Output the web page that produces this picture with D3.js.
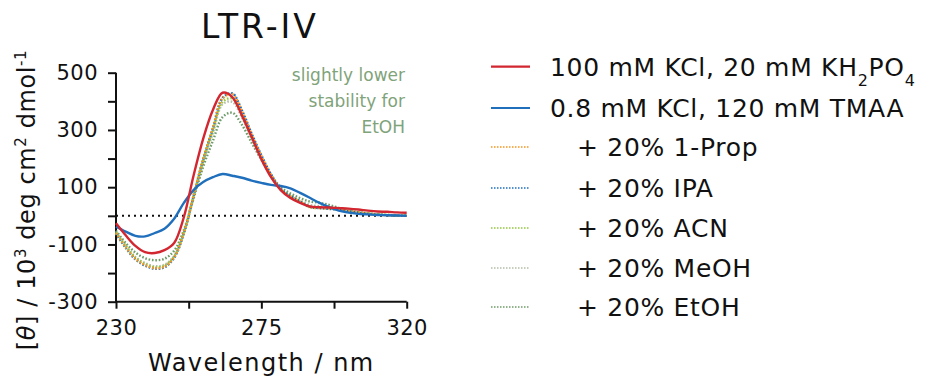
<!DOCTYPE html>
<html>
<head>
<meta charset="utf-8">
<script src="https://cdn.jsdelivr.net/npm/d3@7"></script>
<style>
  body { margin: 0; background: #fff; }
  svg { font-family: "DejaVu Sans", "Open Sans", sans-serif; }
  .axis path, .axis line { stroke: #111; stroke-width: 2; }
  .axis text { font-family: "DejaVu Sans", sans-serif; font-size: 21px; fill: #111; letter-spacing: 0.5px; }
</style>
</head>
<body>
<div id="chart"></div>
<script>
// wavelengths (nm)
var wavelength = [230,233,236,239,242,245,248,251,254,257,260,263,266,269,272,275,278,281,284,287,290,293,296,299,302,305,308,311,314,317,320];

// molar ellipticity, 10^3 deg cm2 dmol-1
var kcl100 = [-26,-68,-105,-127,-130,-120,-95,-5,140,270,370,430,415,350,275,198,135,90,62,45,33,30,29,27,25,22,18,15,14,12,11];
var tmaa = [-38,-55,-70,-72,-60,-45,-10,45,90,118,135,146,140,133,123,115,108,104,96,80,63,45,30,18,11,7,5,3,2,1,0];
var prop1 = [-61,-110,-150,-172,-183,-178,-145,-60,70,200,308,410,425,365,285,210,143,92,68,50,30,27,25,22,17,12,8,4,2,1,0];
var ipa = [-63,-112,-152,-174,-185,-180,-147,-62,68,198,306,412,428,368,287,212,145,94,69,50,31,27,24,21,16,11,7,4,2,1,0];
var acn = [-58,-106,-146,-168,-180,-174,-142,-58,70,196,300,398,410,352,276,204,140,92,68,50,32,28,26,22,17,12,8,5,3,1,0];
var meoh = [-57,-104,-144,-165,-176,-171,-140,-60,64,188,290,390,398,344,272,202,140,94,70,52,38,34,30,24,18,13,8,5,3,1,0];
var etoh = [-52,-95,-128,-148,-155,-150,-122,-50,60,172,262,345,360,318,255,196,142,100,78,62,50,46,38,28,18,12,8,5,3,1,0];

var labels = ["100 mM KCl, 20 mM KH2PO4", "0.8 mM KCl, 120 mM TMAA", "+ 20% 1-Prop", "+ 20% IPA", "+ 20% ACN", "+ 20% MeOH", "+ 20% EtOH"];
var colors = ["#d22630", "#1f6fbd", "#f7941d", "#1b6fc0", "#93c83e", "#b2bda6", "#6d9c68"];
var dashed = [false, false, true, true, true, true, true];

var yTicks = [-300,-200,-100,0,100,200,300,400,500];
var yLabels = [-300,-100,100,300,500];
var xTicks = [230,252.5,275,297.5,320];
var xLabels = [230,275,320];

var W = 925, H = 377;
var M = {t:72.7, l:116, r:518.3, b:75.3};

var svg = d3.select("#chart").append("svg")
  .attr("width", W).attr("height", H);

var scaleX = d3.scaleLinear().domain([230,320]).range([M.l, W - M.r]);
var scaleY = d3.scaleLinear().domain([-300,500]).range([H - M.b, M.t]);

// axes
var axisY = d3.axisLeft(scaleY).tickValues(yTicks).tickSize(8).tickPadding(10)
  .tickFormat(function(d){ return yLabels.indexOf(d) > -1 ? d : ""; });
svg.append("g").attr("class","axis")
  .attr("transform","translate(" + M.l + ",0)")
  .call(axisY)
  .call(function(g){ g.select(".domain").attr("d", "M0," + scaleY(-300) + "V" + scaleY(500)); });

var axisX = d3.axisBottom(scaleX).tickValues(xTicks).tickSize(7).tickPadding(11)
  .tickFormat(function(d){ return xLabels.indexOf(d) > -1 ? d : ""; });
svg.append("g").attr("class","axis")
  .attr("transform","translate(0," + scaleY(-300) + ")")
  .call(axisX)
  .call(function(g){ g.select(".domain").attr("d", "M" + scaleX(230) + ",0H" + scaleX(320)); });

// zero line
svg.append("line")
  .attr("x1", scaleX(230)).attr("x2", scaleX(320))
  .attr("y1", scaleY(0)).attr("y2", scaleY(0))
  .attr("stroke", "#111").attr("stroke-width", 2).attr("stroke-dasharray", "2,4");

// curves
var series = [kcl100, tmaa, prop1, ipa, acn, meoh, etoh];
var line = d3.line()
  .x(function(d, i){ return scaleX(wavelength[i]); })
  .y(function(d){ return scaleY(d); })
  .curve(d3.curveCatmullRom.alpha(0.5));

var order = [5, 6, 4, 3, 2, 1, 0];
order.forEach(function(k){
  svg.append("path")
    .datum(series[k])
    .attr("d", line)
    .attr("fill", "none")
    .attr("stroke", colors[k])
    .attr("stroke-width", 2.4)
    .attr("stroke-dasharray", dashed[k] ? "1.6,1.8" : null);
});

// title
svg.append("text")
  .attr("x", 260).attr("y", 38)
  .attr("text-anchor","middle")
  .style("font-size","33px").style("letter-spacing","3px").style("fill","#111")
  .text("LTR-IV");

// annotation
var note = ["slightly lower", "stability for", "EtOH"];
svg.append("g").selectAll("text").data(note).enter().append("text")
  .attr("x", 405).attr("y", function(d, i){ return 81 + i * 26; })
  .attr("text-anchor","end")
  .style("font-size","17px").style("fill","#7fa37a")
  .text(function(d){ return d; });

// axis titles
svg.append("text")
  .attr("x", scaleX(275)).attr("y", 371)
  .attr("text-anchor","middle")
  .style("font-size","24px").style("letter-spacing","1.5px").style("fill","#111")
  .text("Wavelength / nm");

var yt = svg.append("text")
  .attr("transform","translate(35,200) rotate(-90)")
  .attr("text-anchor","middle")
  .style("font-size","24px").style("letter-spacing","0.6px").style("fill","#111");
yt.append("tspan").text("[");
yt.append("tspan").style("font-style","italic").text("θ");
yt.append("tspan").text("] / 10");
yt.append("tspan").attr("baseline-shift","super").style("font-size","15px").text("3");
yt.append("tspan").text(" deg cm");
yt.append("tspan").attr("baseline-shift","super").style("font-size","15px").text("2");
yt.append("tspan").text(" dmol");
yt.append("tspan").attr("baseline-shift","super").style("font-size","15px").text("-1");

// legend
var legendY = [66.7,108,147,188,228,268,307];
var leg = svg.append("g").selectAll("g").data(labels).enter().append("g")
  .attr("transform", function(d, i){ return "translate(0," + legendY[i] + ")"; });
leg.append("line")
  .attr("x1", 491).attr("x2", 530).attr("y1", 0).attr("y2", 0)
  .attr("stroke", function(d, i){ return colors[i]; })
  .attr("stroke-width", function(d, i){ return dashed[i] ? 1.6 : 2.2; })
  .attr("stroke-dasharray", function(d, i){ return dashed[i] ? "1.5,1.5" : null; });
leg.each(function(d, i){
  var t = d3.select(this).append("text")
    .attr("x", dashed[i] ? 577 : 550).attr("y", 9)
    .style("font-size","25px").style("letter-spacing","0.7px").style("fill","#111");
  if (i === 0) {
    t.append("tspan").text("100 mM KCl, 20 mM KH");
    t.append("tspan").attr("baseline-shift","sub").style("font-size","16px").text("2");
    t.append("tspan").text("PO");
    t.append("tspan").attr("baseline-shift","sub").style("font-size","16px").text("4");
  } else {
    t.text(d);
  }
});
</script>
</body>
</html>
